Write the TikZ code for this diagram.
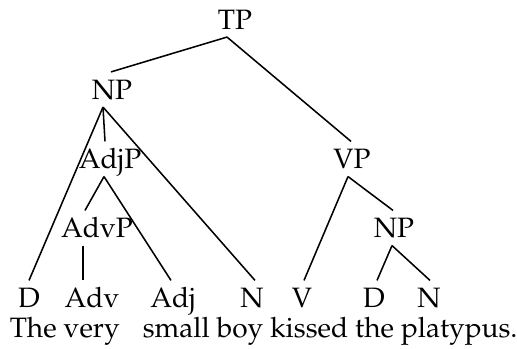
\documentclass[tikz,border=0pt]{standalone}
\usepackage[T1]{fontenc}
\usepackage{mathpazo}
\usetikzlibrary{calc}

\tikzset{
  cat/.style={inner sep=2.5pt, text height=7pt, text depth=0pt},
  word/.style={inner sep=0, anchor=base west}
}

\begin{document}
\begin{tikzpicture}[x=0.01255cm, y=-0.01255cm, line width=0.55pt]
	\useasboundingbox (0,0) rectangle (517,349);
	% categories
	\node [cat] (TP) at (235,19.5) {TP};
	\node [cat] (NPs) at (112,89.5) {NP};
	\node [cat] (AdjP) at (110,159) {AdjP};
	\node [cat] (VP) at (352,159) {VP};
	\node [cat] (AdvP) at (97,228) {AdvP};
	\node [cat] (NPo) at (394,228) {NP};
	\node [cat] (D1) at (29,298) {D};
	\node [cat] (Adv) at (92,298) {Adv};
	\node [cat] (Adj) at (173,298) {Adj};
	\node [cat] (N1) at (252,298) {N};
	\node [cat] (V) at (302,298) {V};
	\node [cat] (D2) at (374,298) {D};
	\node [cat] (N2) at (429,298) {N};
	% words
	\node [word] (w1) at (9,337) {The very};
	\node [word] (w2) at (142,337) {small};
	\node [word] (w3) at (216,337) {boy kissed the platypus.};
	% branches
	\draw ($(TP.south)+(-8,0)$) -- ($(NPs.north)+(-1,0)$);
	\draw ($(TP.south)+(-8,0)$) -- ($(VP.north)+(-1,0)$);
	\draw ($(NPs.south)+(-9,0)$) -- (D1.north);
	\draw ($(NPs.south)+(-9,0)$) -- ($(AdjP.north)+(-5,0)$);
	\draw ($(NPs.south)+(-9,0)$) -- ($(N1.north)+(3,0)$);
	\draw ($(AdjP.south)+(-6,0)$) -- ($(AdvP.north)+(-12,0)$);
	\draw ($(AdjP.south)+(-6,0)$) -- ($(Adj.north)+(-2,0)$);
	\draw ($(AdvP.south)+(-14,0)$) -- ($(Adv.north)+(-9,0)$);
	\draw ($(VP.south)+(-4,0)$) -- ($(V.north)+(2,0)$);
	\draw ($(VP.south)+(-4,0)$) -- ($(NPo.north)+(-1,0)$);
	\draw ($(NPo.south)+(-2,0)$) -- ($(D2.north)+(3,0)$);
	\draw ($(NPo.south)+(-2,0)$) -- ($(N2.north)+(1,0)$);
\end{tikzpicture}
\end{document}
